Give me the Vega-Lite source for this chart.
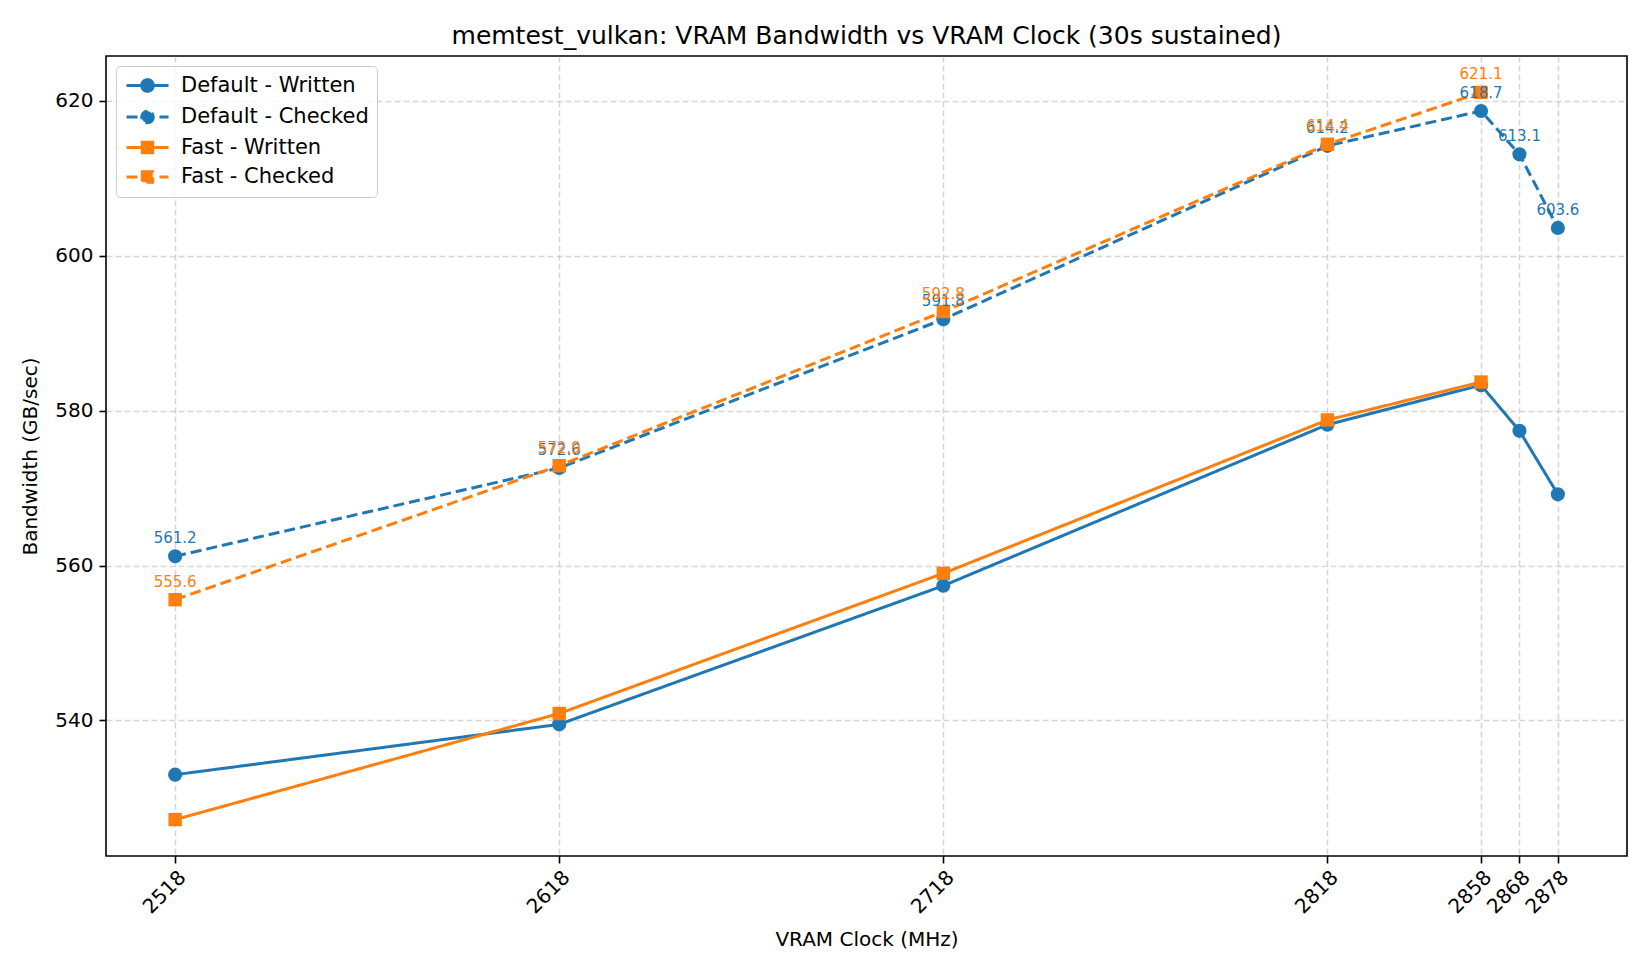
{
  "$schema": "https://vega.github.io/schema/vega-lite/v6.json",
  "width": 1521,
  "height": 800,
  "autosize": {"type": "none"},
  "padding": {"left": 106, "top": 56, "right": 23, "bottom": 119},
  "background": "white",
  "title": {
    "text": "memtest_vulkan: VRAM Bandwidth vs VRAM Clock (30s sustained)",
    "fontSize": 25,
    "font": "DejaVu Sans",
    "fontWeight": "normal",
    "color": "black",
    "anchor": "middle",
    "offset": 7
  },
  "config": {
    "view": {"stroke": "black", "strokeWidth": 1.6},
    "axis": {
      "labelFont": "DejaVu Sans",
      "labelFontSize": 20,
      "labelColor": "black",
      "titleFont": "DejaVu Sans",
      "titleFontSize": 20,
      "titleFontWeight": "normal",
      "titleColor": "black",
      "domain": false,
      "tickColor": "black",
      "tickSize": 7,
      "tickWidth": 1.6,
      "grid": true,
      "gridColor": "#b0b0b0",
      "gridOpacity": 0.5,
      "gridDash": [6, 3],
      "gridWidth": 1.6
    }
  },
  "data": {
    "values": [
      {"clock": 2518, "series": "Default - Written", "value": 533.0},
      {"clock": 2618, "series": "Default - Written", "value": 539.5},
      {"clock": 2718, "series": "Default - Written", "value": 557.4},
      {"clock": 2818, "series": "Default - Written", "value": 578.2},
      {"clock": 2858, "series": "Default - Written", "value": 583.3},
      {"clock": 2868, "series": "Default - Written", "value": 577.4},
      {"clock": 2878, "series": "Default - Written", "value": 569.2},
      {"clock": 2518, "series": "Default - Checked", "value": 561.2},
      {"clock": 2618, "series": "Default - Checked", "value": 572.6},
      {"clock": 2718, "series": "Default - Checked", "value": 591.8},
      {"clock": 2818, "series": "Default - Checked", "value": 614.2},
      {"clock": 2858, "series": "Default - Checked", "value": 618.7},
      {"clock": 2868, "series": "Default - Checked", "value": 613.1},
      {"clock": 2878, "series": "Default - Checked", "value": 603.6},
      {"clock": 2518, "series": "Fast - Written", "value": 527.2},
      {"clock": 2618, "series": "Fast - Written", "value": 540.9},
      {"clock": 2718, "series": "Fast - Written", "value": 559.0},
      {"clock": 2818, "series": "Fast - Written", "value": 578.8},
      {"clock": 2858, "series": "Fast - Written", "value": 583.7},
      {"clock": 2518, "series": "Fast - Checked", "value": 555.6},
      {"clock": 2618, "series": "Fast - Checked", "value": 572.9},
      {"clock": 2718, "series": "Fast - Checked", "value": 592.8},
      {"clock": 2818, "series": "Fast - Checked", "value": 614.4},
      {"clock": 2858, "series": "Fast - Checked", "value": 621.1}
    ]
  },
  "encoding": {
    "x": {
      "field": "clock",
      "type": "quantitative",
      "scale": {"domain": [2500, 2896], "nice": false, "zero": false},
      "axis": {
        "title": "VRAM Clock (MHz)",
        "values": [2518, 2618, 2718, 2818, 2858, 2868, 2878],
        "format": "d",
        "labelAngle": -45,
        "labelAlign": "right",
        "labelBaseline": "top",
        "labelPadding": 4,
        "labelFlush": false,
        "labelOverlap": false,
        "titleY": 73,
        "titleBaseline": "top"
      }
    },
    "y": {
      "field": "value",
      "type": "quantitative",
      "scale": {"domain": [522.5, 625.8], "nice": false, "zero": false},
      "axis": {
        "title": "Bandwidth (GB/sec)",
        "values": [540, 560, 580, 600, 620],
        "labelPadding": 6,
        "titleX": -76,
        "titleBaseline": "middle"
      }
    }
  },
  "layer": [
    {
      "transform": [{"filter": "datum.clock < 0"}],
      "mark": {"type": "point", "filled": true, "opacity": 1, "strokeWidth": 3},
      "encoding": {
        "color": {
          "field": "series",
          "type": "nominal",
          "scale": {
            "domain": ["Default - Written", "Default - Checked", "Fast - Written", "Fast - Checked"],
            "range": ["#1f77b4", "#1f77b4", "#ff7f0e", "#ff7f0e"]
          },
          "legend": {
            "title": null,
            "orient": "top-left",
            "offset": 10,
            "padding": 8,
            "fillColor": "rgba(255,255,255,0.8)",
            "strokeColor": "#cccccc",
            "cornerRadius": 4,
            "labelFont": "DejaVu Sans",
            "labelFontSize": 21,
            "labelColor": "black",
            "labelLimit": 400,
            "symbolSize": 400,
            "symbolOffset": 12,
            "labelOffset": 22,
            "rowPadding": 6.5,
            "symbolStrokeWidth": 3
          }
        },
        "stroke": {"field": "series", "type": "nominal",
          "scale": {
            "domain": ["Default - Written", "Default - Checked", "Fast - Written", "Fast - Checked"],
            "range": ["#1f77b4", "#1f77b4", "#ff7f0e", "#ff7f0e"]
          },
          "legend": {"title": null}
        },
        "shape": {
          "field": "series",
          "type": "nominal",
          "scale": {
            "domain": ["Default - Written", "Default - Checked", "Fast - Written", "Fast - Checked"],
            "range": [
              "M-2.1,0H2.1M0.58,0A0.58,0.58 0 1,1 -0.58,0A0.58,0.58 0 1,1 0.58,0Z",
              "M-2.1,0H-0.95M1.2,0H2.1M0.58,0A0.58,0.58 0 1,1 -0.58,0A0.58,0.58 0 1,1 0.58,0Z",
              "M-2.1,0H2.1M-0.52,-0.52H0.52V0.52H-0.52Z",
              "M-2.1,0H-0.95M1.2,0H2.1M-0.52,-0.52H0.52V0.52H-0.52Z"
            ]
          },
          "legend": {"title": null}
        }
      }
    },
    {
      "mark": {"type": "line", "strokeWidth": 3},
      "encoding": {
        "color": {"field": "series", "type": "nominal", "legend": null},
        "strokeDash": {
          "field": "series",
          "type": "nominal",
          "scale": {
            "domain": ["Default - Written", "Default - Checked", "Fast - Written", "Fast - Checked"],
            "range": [[1, 0], [11, 5], [1, 0], [11, 5]]
          },
          "legend": null
        }
      }
    },
    {
      "transform": [{"filter": "indexof(datum.series, 'Default') === 0"}],
      "mark": {"type": "point", "shape": "circle", "filled": true, "size": 200, "opacity": 1},
      "encoding": {
        "color": {"field": "series", "type": "nominal", "legend": null}
      }
    },
    {
      "transform": [{"filter": "indexof(datum.series, 'Fast') === 0"}],
      "mark": {"type": "point", "shape": "square", "filled": true, "size": 180, "opacity": 1},
      "encoding": {
        "color": {"field": "series", "type": "nominal", "legend": null}
      }
    },
    {
      "transform": [{"filter": "indexof(datum.series, 'Checked') >= 0"}],
      "mark": {"type": "text", "font": "DejaVu Sans", "fontSize": 15, "baseline": "alphabetic", "align": "center", "dy": -13},
      "encoding": {
        "color": {"field": "series", "type": "nominal", "legend": null},
        "text": {"field": "value", "type": "quantitative", "format": ".1f"}
      }
    }
  ]
}
